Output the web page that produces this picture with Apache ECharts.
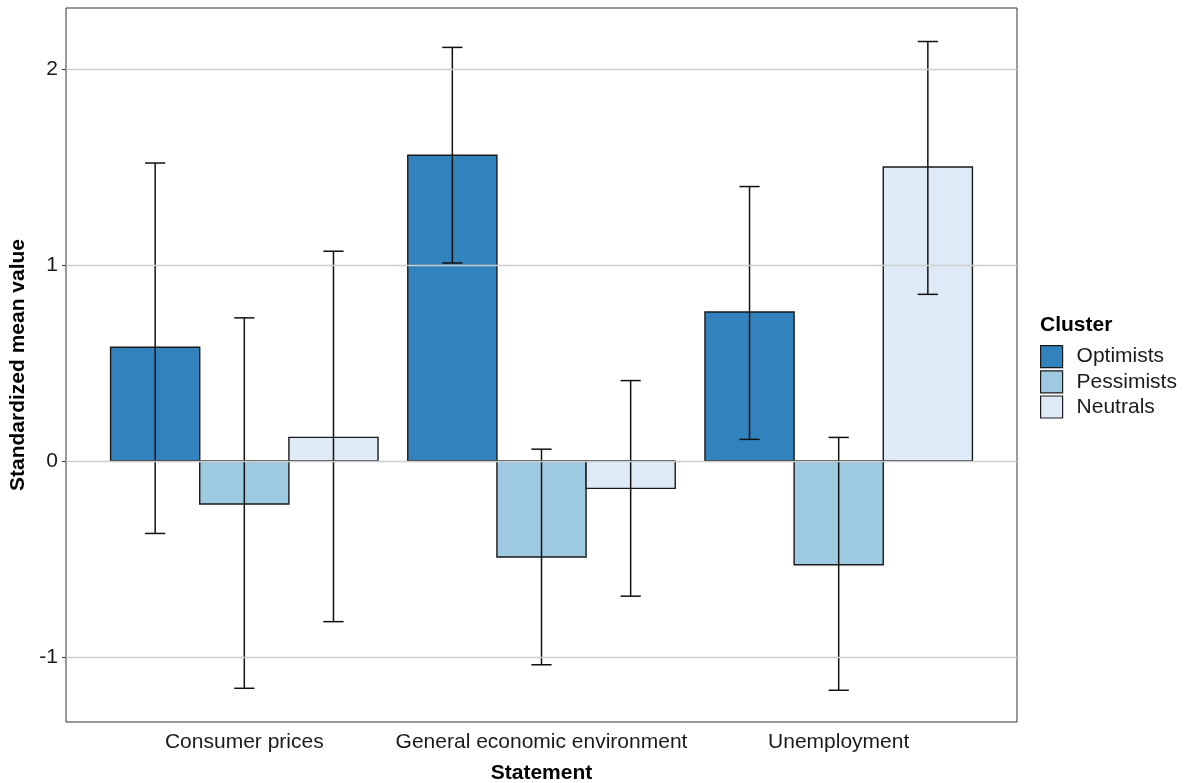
<!DOCTYPE html>
<html>
<head>
<meta charset="utf-8">
<script src="https://cdn.jsdelivr.net/npm/echarts@6/dist/echarts.min.js"></script>
<style>html,body{margin:0;padding:0;background:#fff;overflow:hidden}#c{width:1184px;height:783px}</style>
</head>
<body>
<div id="c"></div>
<script>
var categories = ['Consumer prices', 'General economic environment', 'Unemployment'];
var clusters = ['Optimists', 'Pessimists', 'Neutrals'];
var optimistsMean = [0.58, 1.56, 0.76];
var optimistsLow = [-0.37, 1.01, 0.11];
var optimistsHigh = [1.52, 2.11, 1.40];
var pessimistsMean = [-0.22, -0.49, -0.53];
var pessimistsLow = [-1.16, -1.04, -1.17];
var pessimistsHigh = [0.73, 0.06, 0.12];
var neutralsMean = [0.12, -0.14, 1.50];
var neutralsLow = [-0.82, -0.69, 0.85];
var neutralsHigh = [1.07, 0.41, 2.14];
var yTicks = [-1, 0, 1, 2];

var colors = ['#3182bd', '#9ecae1', '#deebf7'];
var offsets = [-0.3, 0, 0.3];
var halfBar = 0.15, halfCap = 0.034;
var FONT = '"Liberation Sans", Arial, sans-serif';

function build(mean, low, high, k) {
  return categories.map(function (c, i) {
    return [i + 1 + offsets[k], mean[i], low[i], high[i]];
  });
}
var seriesData = [
  build(optimistsMean, optimistsLow, optimistsHigh, 0),
  build(pessimistsMean, pessimistsLow, pessimistsHigh, 1),
  build(neutralsMean, neutralsLow, neutralsHigh, 2)
];

function renderItem(k) {
  return function (params, api) {
    var x = api.value(0), v = api.value(1), lo = api.value(2), hi = api.value(3);
    var p0 = api.coord([x - halfBar, Math.max(v, 0)]);
    var p1 = api.coord([x + halfBar, Math.min(v, 0)]);
    var eTop = api.coord([x, hi]), eBot = api.coord([x, lo]);
    var cL = api.coord([x - halfCap, hi]), cR = api.coord([x + halfCap, hi]);
    var bL = api.coord([x - halfCap, lo]), bR = api.coord([x + halfCap, lo]);
    var ls = {stroke: '#111', lineWidth: 1.5};
    return {
      type: 'group',
      children: [
        {type: 'rect', shape: {x: p0[0], y: p0[1], width: p1[0] - p0[0], height: p1[1] - p0[1]},
         style: {fill: colors[k], stroke: '#1a1a1a', lineWidth: 1.4}},
        {type: 'line', shape: {x1: eTop[0], y1: eTop[1], x2: eBot[0], y2: eBot[1]}, style: ls},
        {type: 'line', shape: {x1: cL[0], y1: cL[1], x2: cR[0], y2: cR[1]}, style: ls},
        {type: 'line', shape: {x1: bL[0], y1: bL[1], x2: bR[0], y2: bR[1]}, style: ls}
      ]
    };
  };
}

var series = [{
  type: 'custom', name: '_grid', data: [], silent: true, z: 1,
  renderItem: function () { return null; },
  markLine: {
    silent: true, symbol: ['none', 'none'], label: {show: false},
    lineStyle: {color: '#cccccc', width: 1.4, type: 'solid'},
    animation: false,
    data: yTicks.map(function (t) { return {yAxis: t}; })
  }
}];
clusters.forEach(function (name, k) {
  series.push({
    type: 'custom', name: name, z: 3,
    itemStyle: {color: colors[k]},
    renderItem: renderItem(k),
    encode: {x: 0, y: [1, 2, 3]},
    data: seriesData[k]
  });
});

var chart = echarts.init(document.getElementById('c'), null, {renderer: 'canvas', width: 1184, height: 783});
chart.setOption({
  animation: false,
  backgroundColor: '#ffffff',
  textStyle: {fontFamily: FONT},
  title: {
    text: 'Cluster', left: 1040, top: 315, padding: 0,
    textStyle: {fontFamily: FONT, fontSize: 21, fontWeight: 'bold', color: '#000'}
  },
  legend: {
    orient: 'vertical', left: 1040, top: 345, padding: 0,
    itemWidth: 22, itemHeight: 22, itemGap: 2, icon: 'rect',
    textStyle: {fontFamily: FONT, fontSize: 21, color: '#1a1a1a', padding: [0, 0, 0, 9]},
    data: clusters.map(function (n, k) {
      return {name: n, itemStyle: {color: colors[k], borderColor: '#1a1a1a', borderWidth: 1.2}};
    })
  },
  grid: {
    left: 66, right: 167, top: 8, bottom: 61,
    outerBoundsMode: 'none', containLabel: false,
    show: true, borderColor: '#333333', borderWidth: 1, backgroundColor: '#ffffff'
  },
  xAxis: {
    type: 'value', min: 0.4, max: 3.6,
    name: 'Statement', nameLocation: 'middle', nameGap: 41,
    nameTextStyle: {fontFamily: FONT, fontSize: 21, fontWeight: 'bold', color: '#000'},
    axisLine: {show: false},
    splitLine: {show: false},
    axisTick: {show: true, length: 4, lineStyle: {color: '#333'}, customValues: [1, 2, 3]},
    axisLabel: {
      customValues: [1, 2, 3], margin: 10,
      fontFamily: FONT, fontSize: 21, color: '#1a1a1a',
      formatter: function (v) { return categories[Math.round(v) - 1] || ''; }
    }
  },
  yAxis: {
    type: 'value', min: -1.332, max: 2.311,
    name: 'Standardized mean value', nameLocation: 'middle', nameGap: 29,
    nameTextStyle: {fontFamily: FONT, fontSize: 21, fontWeight: 'bold', color: '#000'},
    axisLine: {show: false},
    splitLine: {show: false},
    axisTick: {show: true, length: 4, lineStyle: {color: '#333'}, customValues: yTicks},
    axisLabel: {
      customValues: yTicks, margin: 8,
      fontFamily: FONT, fontSize: 21, color: '#1a1a1a',
      formatter: function (v) { return String(v); }
    }
  },
  series: series
});
</script>
</body>
</html>
